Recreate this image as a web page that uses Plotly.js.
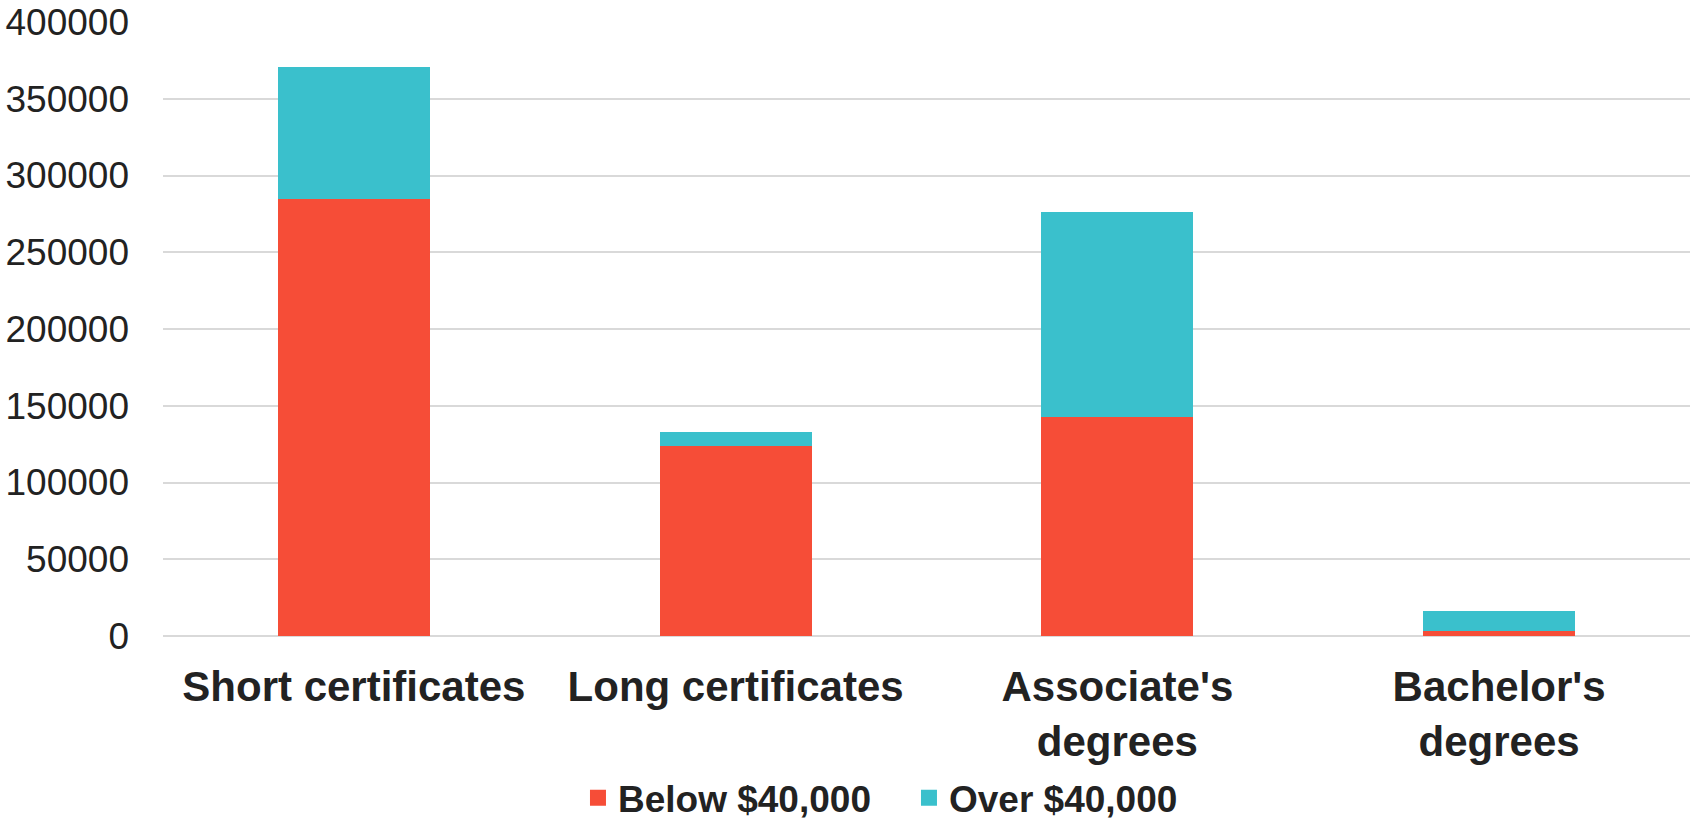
<!DOCTYPE html>
<html>
<head>
<meta charset="utf-8">
<script src="https://cdn.plot.ly/plotly-3.0.1.min.js"></script>
<style>
  html, body { margin: 0; padding: 0; background: #ffffff; }
  #chart { width: 1690px; height: 822px; }
</style>
</head>
<body>
<div id="chart"></div>
<script>
// Credentials awarded, split by typical earnings
const categories = ["Short certificates", "Long certificates", "Associate's<br>degrees", "Bachelor's<br>degrees"];
const belowValues = [284500, 124000, 142500, 3000];
const overValues = [86500, 9000, 134000, 13000];
const seriesNames = ["Below $40,000", "Over $40,000"];
const seriesColors = ["#F64D37", "#3AC0CC"];

const FONT = "Liberation Sans, Arial, Helvetica, sans-serif";
const TEXT = "#222222";
const GRID = "#d9d9d9";

const seriesValues = [belowValues, overValues];

// stacked bars (legend keys are drawn by the marker-only entries below,
// which give larger square swatches than the default bar key)
const barTraces = seriesValues.map((vals, i) => ({
  type: "bar", name: seriesNames[i], x: categories, y: vals,
  marker: { color: seriesColors[i] }, hoverinfo: "none",
  showlegend: false, legendgroup: "s" + i
}));

const keyTraces = seriesNames.map((name, i) => ({
  type: "scatter", mode: "markers", name: name,
  x: [null], y: [null],
  marker: { symbol: "square", size: 16, color: seriesColors[i] },
  hoverinfo: "none", showlegend: true, legendgroup: "s" + i
}));

const layout = {
  width: 1690,
  height: 822,
  barmode: "stack",
  bargap: 0.602,
  paper_bgcolor: "#ffffff",
  plot_bgcolor: "#ffffff",
  margin: { l: 163, r: 0, t: 22, b: 186, autoexpand: false },
  showlegend: true,
  legend: {
    orientation: "h",
    xref: "container", yref: "container",
    x: 0.342, xanchor: "left",
    y: 0.029, yanchor: "middle",
    entrywidth: 286, entrywidthmode: "pixels",
    traceorder: "normal",
    itemsizing: "trace",
    font: { family: FONT, size: 37, color: TEXT, weight: "bold" },
    itemclick: false, itemdoubleclick: false
  },
  xaxis: {
    type: "category",
    categoryorder: "array",
    categoryarray: categories,
    automargin: false,
    tickfont: { family: FONT, size: 42, color: TEXT, weight: "bold" },
    ticks: "",
    ticklabelstandoff: 22,
    showgrid: false,
    showline: false,
    zeroline: false,
    fixedrange: true
  },
  yaxis: {
    range: [0, 400000],
    dtick: 50000,
    tick0: 0,
    tickformat: "d",
    automargin: false,
    tickfont: { family: FONT, size: 37, color: TEXT },
    ticks: "",
    ticklabelstandoff: 33,
    showgrid: true,
    gridcolor: GRID,
    gridwidth: 2,
    zeroline: true,
    zerolinecolor: GRID,
    zerolinewidth: 2,
    showline: false,
    fixedrange: true
  }
};

Plotly.newPlot("chart", barTraces.concat(keyTraces), layout, { displayModeBar: false, staticPlot: true });
</script>
</body>
</html>
